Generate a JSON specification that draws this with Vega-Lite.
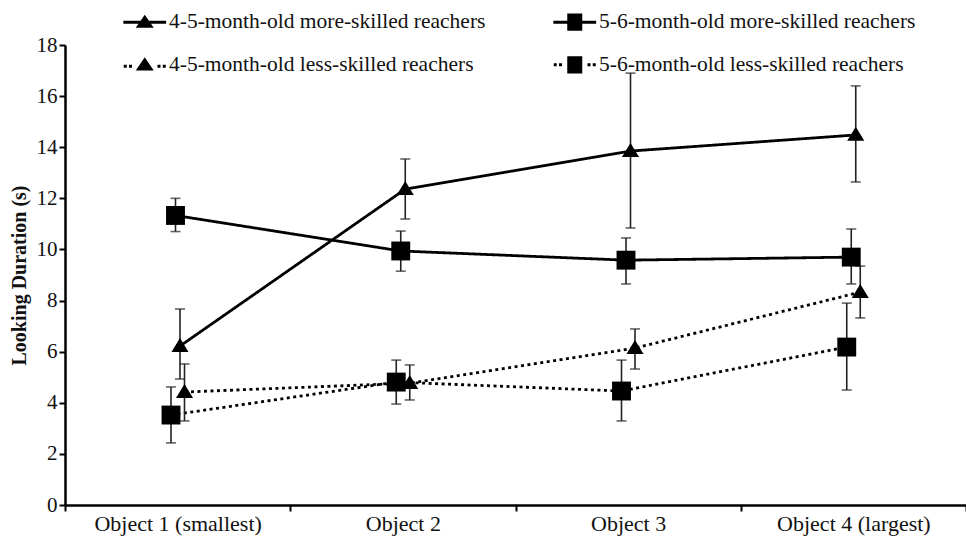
{
  "$schema": "https://vega.github.io/schema/vega-lite/v6.json",
  "width": 901,
  "height": 460,
  "autosize": {"type": "none"},
  "padding": {"left": 65, "top": 45, "right": 0, "bottom": 34},
  "background": "white",
  "config": {
    "view": {"stroke": null},
    "font": "Liberation Serif",
    "legend": {"labelFont": "Liberation Serif"},
    "axis": {
      "labelFont": "Liberation Serif",
      "labelFontSize": 21,
      "labelColor": "#111",
      "domainColor": "#000",
      "domainWidth": 2.5,
      "tickColor": "#000",
      "tickWidth": 2,
      "tickSize": 6,
      "labelPadding": 2,
      "grid": false
    },
    "axisX": {"labelFontSize": 22}
  },
  "resolve": {"scale": {"shape": "independent"}, "legend": {"shape": "independent"}},
  "data": {
    "values": [
      {"object": "Object 1 (smallest)", "series": "4-5-month-old more-skilled reachers", "age": "4-5", "skill": "more", "mean": 6.22, "lo": 4.93, "hi": 7.67},
      {"object": "Object 1 (smallest)", "series": "5-6-month-old more-skilled reachers", "age": "5-6", "skill": "more", "mean": 11.33, "lo": 10.7, "hi": 12.0},
      {"object": "Object 1 (smallest)", "series": "4-5-month-old less-skilled reachers", "age": "4-5", "skill": "less", "mean": 4.42, "lo": 3.29, "hi": 5.52},
      {"object": "Object 1 (smallest)", "series": "5-6-month-old less-skilled reachers", "age": "5-6", "skill": "less", "mean": 3.52, "lo": 2.43, "hi": 4.62},
      {"object": "Object 2", "series": "4-5-month-old more-skilled reachers", "age": "4-5", "skill": "more", "mean": 12.36, "lo": 11.19, "hi": 13.54},
      {"object": "Object 2", "series": "5-6-month-old more-skilled reachers", "age": "5-6", "skill": "more", "mean": 9.94, "lo": 9.15, "hi": 10.72},
      {"object": "Object 2", "series": "4-5-month-old less-skilled reachers", "age": "4-5", "skill": "less", "mean": 4.77, "lo": 4.11, "hi": 5.48},
      {"object": "Object 2", "series": "5-6-month-old less-skilled reachers", "age": "5-6", "skill": "less", "mean": 4.81, "lo": 3.95, "hi": 5.67},
      {"object": "Object 3", "series": "4-5-month-old more-skilled reachers", "age": "4-5", "skill": "more", "mean": 13.85, "lo": 10.84, "hi": 16.9},
      {"object": "Object 3", "series": "5-6-month-old more-skilled reachers", "age": "5-6", "skill": "more", "mean": 9.58, "lo": 8.65, "hi": 10.45},
      {"object": "Object 3", "series": "4-5-month-old less-skilled reachers", "age": "4-5", "skill": "less", "mean": 6.14, "lo": 5.32, "hi": 6.89},
      {"object": "Object 3", "series": "5-6-month-old less-skilled reachers", "age": "5-6", "skill": "less", "mean": 4.46, "lo": 3.29, "hi": 5.67},
      {"object": "Object 4 (largest)", "series": "4-5-month-old more-skilled reachers", "age": "4-5", "skill": "more", "mean": 14.48, "lo": 12.64, "hi": 16.4},
      {"object": "Object 4 (largest)", "series": "5-6-month-old more-skilled reachers", "age": "5-6", "skill": "more", "mean": 9.7, "lo": 8.65, "hi": 10.8},
      {"object": "Object 4 (largest)", "series": "4-5-month-old less-skilled reachers", "age": "4-5", "skill": "less", "mean": 8.33, "lo": 7.32, "hi": 9.35},
      {"object": "Object 4 (largest)", "series": "5-6-month-old less-skilled reachers", "age": "5-6", "skill": "less", "mean": 6.18, "lo": 4.5, "hi": 7.9}
    ]
  },
  "encoding": {
    "x": {
      "field": "object",
      "type": "nominal",
      "sort": ["Object 1 (smallest)", "Object 2", "Object 3", "Object 4 (largest)"],
      "scale": {"type": "band", "paddingInner": 0, "paddingOuter": 0},
      "axis": {"title": null, "labelAngle": 0, "tickBand": "extent"}
    },
    "xOffset": {
      "field": "series",
      "type": "nominal",
      "scale": {
        "type": "point",
        "padding": 0,
        "range": [106, 119.5],
        "domain": ["5-6-month-old less-skilled reachers", "5-6-month-old more-skilled reachers", "4-5-month-old more-skilled reachers", "4-5-month-old less-skilled reachers"]
      }
    }
  },
  "layer": [
    {
      "mark": {"type": "line", "color": "#000", "strokeWidth": 2.8, "strokeCap": "butt"},
      "encoding": {
        "y": {
          "field": "mean",
          "type": "quantitative",
          "scale": {"domain": [0, 18], "nice": false},
          "axis": {
            "values": [0, 2, 4, 6, 8, 10, 12, 14, 16, 18],
            "title": "Looking Duration (s)",
            "titleFont": "Liberation Serif",
            "titleFontSize": 20,
            "titleFontWeight": "bold",
            "titleColor": "#111",
            "titlePadding": 7
          }
        },
        "detail": {"field": "series"},
        "strokeDash": {
          "field": "skill",
          "type": "nominal",
          "scale": {"domain": ["more", "less"], "range": [[1, 0], [3, 3.5]]},
          "legend": null
        }
      }
    },
    {
      "mark": {"type": "rule", "color": "#222", "strokeWidth": 1.6},
      "encoding": {
        "y": {"field": "lo", "type": "quantitative"},
        "y2": {"field": "hi"}
      }
    },
    {
      "mark": {"type": "tick", "color": "#222", "size": 10, "thickness": 1.6, "orient": "horizontal"},
      "encoding": {"y": {"field": "lo", "type": "quantitative"}}
    },
    {
      "mark": {"type": "tick", "color": "#222", "size": 10, "thickness": 1.6, "orient": "horizontal"},
      "encoding": {"y": {"field": "hi", "type": "quantitative"}}
    },
    {
      "mark": {"type": "point", "filled": true, "color": "#000", "opacity": 1, "size": 324},
      "encoding": {
        "y": {"field": "mean", "type": "quantitative"},
        "shape": {
          "field": "age",
          "type": "nominal",
          "scale": {"domain": ["4-5", "5-6"], "range": ["M0,-0.9L0.95,0.65H-0.95Z", "M-1.05,-1.05H1.05V1.05H-1.05Z"]},
          "legend": null
        }
      }
    },
    {
      "mark": {"type": "point", "filled": true, "color": "#000", "opacity": 0, "size": 225},
      "encoding": {
        "y": {"field": "mean", "type": "quantitative"},
        "shape": {
          "field": "series",
          "type": "nominal",
          "scale": {
            "domain": ["4-5-month-old more-skilled reachers", "4-5-month-old less-skilled reachers", "5-6-month-old more-skilled reachers", "5-6-month-old less-skilled reachers"],
            "range": [
              "M-2.85,-0.2H2.85V0.2H-2.85ZM0,-1.0L1.2,0.75H-1.2Z",
              "M-2.8,0H-2.4V0.4H-2.8ZM-2.1,0H-1.7V0.4H-2.1ZM1.7,0H2.1V0.4H1.7ZM2.4,0H2.8V0.4H2.4ZM0,-1.0L1.2,0.75H-1.2Z",
              "M-2.85,-0.2H2.85V0.2H-2.85ZM-1.0,-1.15H1.0V1.15H-1.0Z",
              "M-2.8,-0.2H-2.4V0.2H-2.8ZM-2.1,-0.2H-1.7V0.2H-2.1ZM1.7,-0.2H2.1V0.2H1.7ZM2.4,-0.2H2.8V0.2H2.4ZM-1.0,-1.15H1.0V1.15H-1.0Z"
            ]
          },
          "legend": {
            "title": null,
            "orient": "none",
            "legendX": 69,
            "legendY": -34,
            "columns": 2,
            "columnPadding": 67,
            "rowPadding": 20,
            "padding": 0,
            "symbolSize": 225,
            "symbolFillColor": "#000",
            "symbolStrokeWidth": 0,
            "symbolOpacity": 1,
            "labelFont": "Liberation Serif",
            "labelFontSize": 21.5,
            "labelColor": "#111",
            "labelOffset": 13.5,
            "labelLimit": 500
          }
        }
      }
    }
  ]
}
